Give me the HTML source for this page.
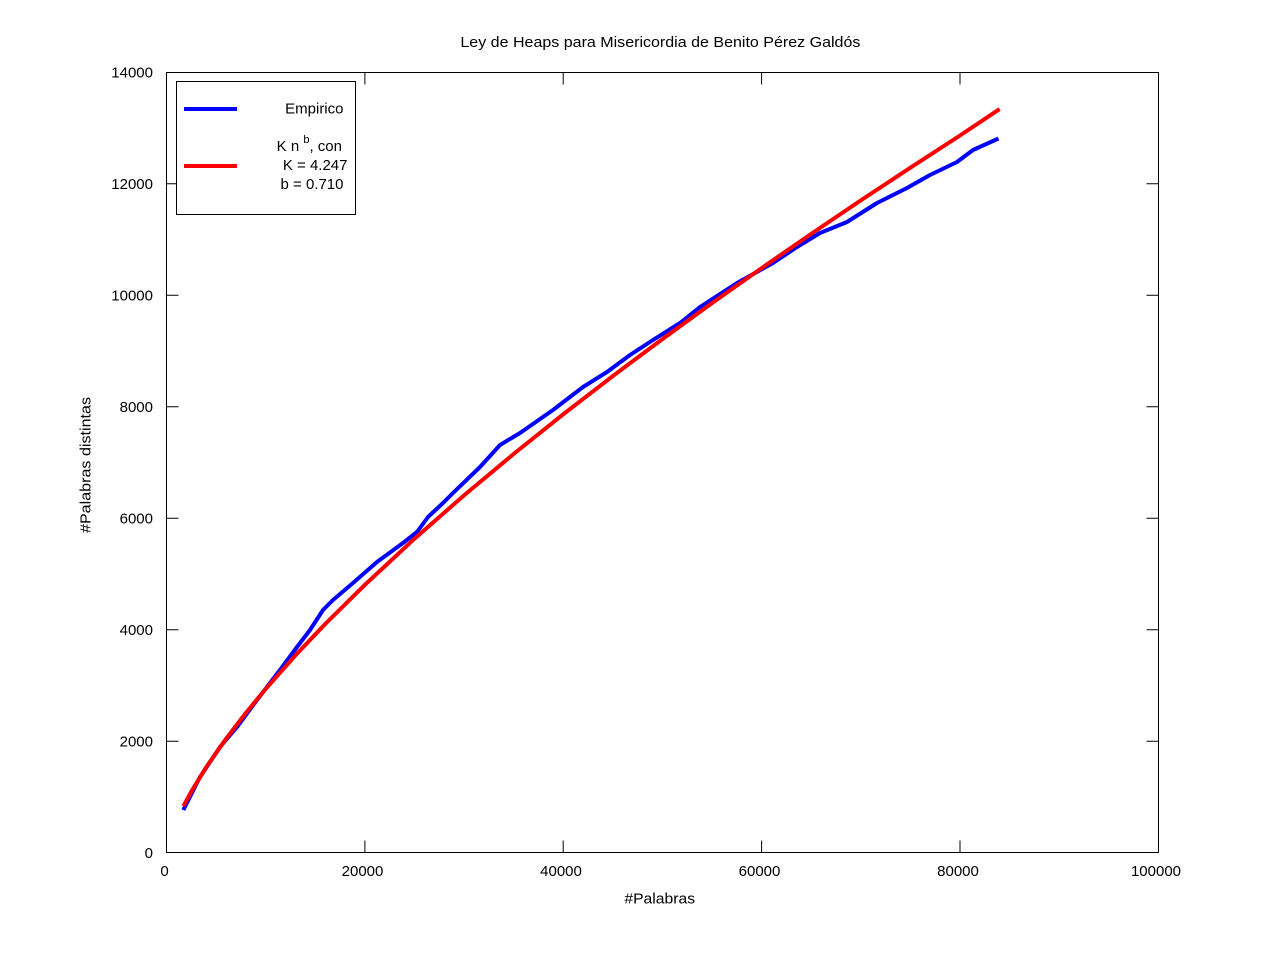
<!DOCTYPE html>
<html>
<head>
<meta charset="utf-8">
<style>
html,body{margin:0;padding:0;background:#fff;}
svg{display:block;}
text{font-family:"Liberation Sans",Arial,sans-serif;fill:#000;}
</style>
</head>
<body>
<svg width="1280" height="960" viewBox="0 0 1280 960" xmlns="http://www.w3.org/2000/svg">
<rect x="0" y="0" width="1280" height="960" fill="#fff"/>

<!-- Title -->
<text x="660.4" y="47" font-size="15" text-anchor="middle" textLength="400" lengthAdjust="spacingAndGlyphs">Ley de Heaps para Misericordia de Benito Pérez Galdós</text>

<!-- Ticks -->
<g stroke="#000" stroke-width="1" fill="none">
  <!-- left/right y ticks -->
  <path d="M166.5 741.2h12 M166.5 629.7h12 M166.5 518.2h12 M166.5 406.7h12 M166.5 295.2h12 M166.5 183.7h12
           M1158.5 741.2h-12 M1158.5 629.7h-12 M1158.5 518.2h-12 M1158.5 406.7h-12 M1158.5 295.2h-12 M1158.5 183.7h-12"/>
  <!-- bottom/top x ticks -->
  <path d="M364.9 852.5v-12 M563.2 852.5v-12 M761.6 852.5v-12 M960 852.5v-12
           M364.9 72.5v12 M563.2 72.5v12 M761.6 72.5v12 M960 72.5v12"/>
</g>

<!-- Y tick labels -->
<g font-size="15" text-anchor="end">
  <text x="153" y="858">0</text>
  <text x="153" y="746.5">2000</text>
  <text x="153" y="635">4000</text>
  <text x="153" y="523.5">6000</text>
  <text x="153" y="412">8000</text>
  <text x="153" y="300.5">10000</text>
  <text x="153" y="189">12000</text>
  <text x="153" y="77.5">14000</text>
</g>

<!-- X tick labels -->
<g font-size="15" text-anchor="middle">
  <text x="164.5" y="876">0</text>
  <text x="362.5" y="876">20000</text>
  <text x="561" y="876">40000</text>
  <text x="759.5" y="876">60000</text>
  <text x="958" y="876">80000</text>
  <text x="1156" y="876">100000</text>
</g>

<!-- Axis labels -->
<text x="659.7" y="903.5" font-size="15" text-anchor="middle" textLength="70.7" lengthAdjust="spacingAndGlyphs">#Palabras</text>
<text transform="translate(90.5,465) rotate(-90)" font-size="15" text-anchor="middle" textLength="136" lengthAdjust="spacingAndGlyphs">#Palabras distintas</text>

<!-- Empirical (blue) -->
<polyline fill="none" stroke="#0000ff" stroke-width="4" stroke-linejoin="round" stroke-linecap="butt"
 points="183.3,810 200,777 220,747 237,727 257,700 280,670 297,647 310,630 323,610 333,600 353,583 377,562 403,543 417,532 428,517 443,503 453,493 480,467 500,445 520,433 553,410 583,387 607,372 630,355 653,340 680,323 700,307 737,283 773,263 797,247 820,233 847,222 877,203 907,188 930,175 957,162 973,150 998.5,138.5"/>

<!-- Fit (red) -->
<polyline fill="none" stroke="#ff0000" stroke-width="4" stroke-linejoin="round" stroke-linecap="butt"
 points="183.4,806.2 191.3,791.6 206.2,767.2 226.0,738.8 245.8,713.0 265.7,688.9 295.4,655.4 325.2,624.0 364.9,584.8 414.5,538.7 464.0,495.4 513.6,454.0 563.2,414.3 612.8,376.1 662.4,339.1 712.0,303.1 761.6,268.1 811.2,233.9 860.8,200.4 910.4,167.7 960.0,135.5 999.6,109.1"/>

<!-- Plot border -->
<rect x="166.5" y="72.5" width="992" height="780" fill="none" stroke="#000" stroke-width="1"/>

<!-- Legend -->
<rect x="176.5" y="81.5" width="179" height="133" fill="#fff" stroke="#000" stroke-width="1"/>
<line x1="184" y1="109" x2="237" y2="109" stroke="#0000ff" stroke-width="4"/>
<line x1="184" y1="166" x2="237" y2="166" stroke="#ff0000" stroke-width="4"/>
<g font-size="15" text-anchor="end">
  <text x="343.5" y="113.5">Empirico</text>
  <text x="342" y="151">K n <tspan font-size="11" dy="-8">b</tspan><tspan dy="8">, con</tspan></text>
  <text x="347.5" y="170">K = 4.247</text>
  <text x="343.5" y="189">b = 0.710</text>
</g>
</svg>
</body>
</html>
